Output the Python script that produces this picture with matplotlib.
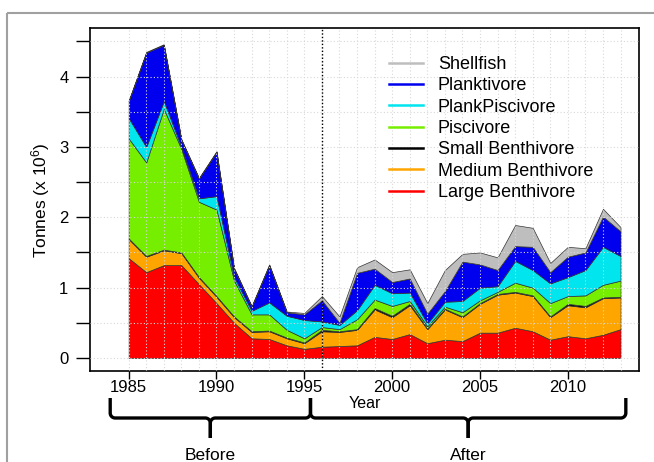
import numpy as np
import matplotlib
matplotlib.use('Agg')
import matplotlib.pyplot as plt
from matplotlib.lines import Line2D
from matplotlib.patches import Rectangle

plt.rcParams['font.family'] = ['Liberation Sans', 'DejaVu Sans']
plt.rcParams['mathtext.fontset'] = 'custom'
plt.rcParams['mathtext.rm'] = 'Liberation Sans'
plt.rcParams['mathtext.it'] = 'Liberation Sans'

years = list(range(1985, 2014))
large = [1.42, 1.22, 1.32, 1.32, 1.05, 0.78, 0.50, 0.28, 0.27, 0.18, 0.13, 0.16, 0.17, 0.18, 0.30,
         0.27, 0.34, 0.21, 0.26, 0.24, 0.36, 0.36, 0.43, 0.38, 0.26, 0.31, 0.28, 0.33, 0.41]
medium = [0.27, 0.22, 0.21, 0.17, 0.09, 0.09, 0.08, 0.09, 0.11, 0.10, 0.08, 0.22, 0.20, 0.22, 0.39,
          0.31, 0.41, 0.20, 0.43, 0.34, 0.41, 0.54, 0.50, 0.50, 0.32, 0.44, 0.44, 0.52, 0.45]
small = [0.01, 0.01, 0.01, 0.01, 0.01, 0.01, 0.01, 0.01, 0.01, 0.01, 0.01, 0.02, 0.01, 0.01, 0.02,
         0.02, 0.02, 0.01, 0.01, 0.01, 0.01, 0.01, 0.01, 0.01, 0.01, 0.02, 0.02, 0.01, 0.01]
piscivore = [1.42, 1.33, 2.00, 1.47, 1.07, 1.23, 0.51, 0.24, 0.23, 0.11, 0.06, 0.04, 0.03, 0.14, 0.12,
             0.14, 0.04, 0.03, 0.03, 0.06, 0.04, 0.03, 0.13, 0.11, 0.19, 0.11, 0.15, 0.18, 0.23]
plankpisc = [0.29, 0.22, 0.11, 0.03, 0.05, 0.19, 0.05, 0.05, 0.17, 0.20, 0.26, 0.08, 0.06, 0.13, 0.21,
             0.18, 0.12, 0.04, 0.07, 0.16, 0.18, 0.08, 0.31, 0.25, 0.28, 0.27, 0.36, 0.54, 0.35]
planktivore = [0.24, 1.34, 0.80, 0.10, 0.28, 0.63, 0.12, 0.06, 0.53, 0.05, 0.08, 0.30, 0.03, 0.53, 0.23,
               0.16, 0.20, 0.14, 0.15, 0.56, 0.33, 0.23, 0.21, 0.33, 0.16, 0.29, 0.25, 0.43, 0.35]
shellfish = [0.01, 0.01, 0.01, 0.01, 0.01, 0.01, 0.01, 0.01, 0.01, 0.01, 0.02, 0.06, 0.09, 0.08, 0.13,
             0.14, 0.13, 0.15, 0.30, 0.11, 0.17, 0.18, 0.30, 0.27, 0.13, 0.14, 0.06, 0.11, 0.06]

series = [large, medium, small, piscivore, plankpisc, planktivore, shellfish]
labels = ['Large Benthivore', 'Medium Benthivore', 'Small Benthivore', 'Piscivore',
          'PlankPiscivore', 'Planktivore', 'Shellfish']
colors = ['#FF0000', '#FFA500', '#000000', '#76EE00', '#00E5EE', '#0000EE', '#BEBEBE']

xtick_years = [1985, 1990, 1995, 2000, 2005, 2010]
ytick_vals = [0, 0.5, 1, 1.5, 2, 2.5, 3, 3.5, 4, 4.5]
ytick_labels = ['0', '', '1', '', '2', '', '3', '', '4', '']
break_year = 1996

W, H = 654, 462
fig = plt.figure(figsize=(W / 100, H / 100), dpi=100)
ax = fig.add_axes([90 / W, 1 - 371 / H, (639 - 90) / W, (371 - 28) / H])

ax.stackplot(years, *series, colors=colors, edgecolor='#333333', linewidth=0.5, zorder=2)

ax.set_xlim(1982.8, 2014.05)
ax.set_ylim(-0.185, 4.69)

gridc = '#d8d8d8'
for yv in ytick_vals:
    ax.axhline(yv, color=gridc, ls=(0, (1, 2)), lw=0.8, zorder=3)
for yr in years:
    ax.axvline(yr, color=gridc, ls=(0, (1, 2)), lw=0.8, zorder=3)
ax.axvline(break_year, color='black', ls=(0, (1, 1.5)), lw=1.0, zorder=4)

ax.set_yticks(ytick_vals)
ax.set_yticklabels(ytick_labels)
ax.set_xticks(xtick_years)
ax.set_xticklabels([str(y) for y in xtick_years])
ax.tick_params(axis='y', length=10, width=1, pad=5.5, labelsize=12)
ax.tick_params(axis='x', length=5.8, width=1, pad=1, labelsize=12)
for s in ax.spines.values():
    s.set_linewidth(1.2)

handles = [Line2D([], [], color=c, lw=1.8) for c in colors[::-1]]
ax.legend(handles, labels[::-1], loc='upper left', bbox_to_anchor=(0.5446, 0.918),
          frameon=False, fontsize=13, handlelength=1.88, handletextpad=0.83,
          labelspacing=0.24, borderaxespad=0, borderpad=0)

# overlay in pixel coordinates for annotations
ov = fig.add_axes([0, 0, 1, 1], zorder=5)
ov.set_xlim(0, W)
ov.set_ylim(H, 0)
ov.axis('off')
ov.patch.set_alpha(0)

fig.canvas.draw()
def px(yr):
    return ax.transData.transform((yr, 0))[0]

def brace(xl, xr, ytop, ymid, ybot, r, lw=2.4):
    xm = (xl + xr) / 2.0
    def arc(cx, cy, t0, t1, n=12):
        t = np.radians(np.linspace(t0, t1, n))
        return list(cx + r * np.cos(t)), list(cy + r * np.sin(t))
    xs, ys = [xl], [ytop]
    a = arc(xl + r, ymid - r, 180, 90); xs += a[0]; ys += a[1]
    a = arc(xm - r, ymid + r, 270, 360); xs += a[0]; ys += a[1]
    xs.append(xm); ys.append(ybot)
    ov.plot(xs, ys, color='black', lw=lw, solid_capstyle='butt', solid_joinstyle='round')
    xs, ys = [xr], [ytop]
    a = arc(xr - r, ymid - r, 0, 90); xs += a[0]; ys += a[1]
    a = arc(xm + r, ymid + r, 270, 180); xs += a[0]; ys += a[1]
    xs.append(xm); ys.append(ybot)
    ov.plot(xs, ys, color='black', lw=lw, solid_capstyle='butt', solid_joinstyle='round')
    return xm

xm1 = brace(px(1983.95), px(1995.35), 398, 418, 438, 5)
xm2 = brace(px(1995.35), px(2013.3), 398, 418, 438, 5)
ov.text(xm1, 455, 'Before', ha='center', va='center', fontsize=12.5)
ov.text(xm2, 455, 'After', ha='center', va='center', fontsize=12.5)
ov.text((90 + 639) / 2, 404, 'Year', ha='center', va='center', fontsize=11.5)
ov.text(41, 200, 'Tonnes (x 10$^6$)', ha='center', va='center', rotation=90, fontsize=12.5)
ov.add_patch(Rectangle((7, 13), 700, 500, fill=False, ec='#a0a0a0', lw=1.5))

fig.savefig('out.png', dpi=100)
